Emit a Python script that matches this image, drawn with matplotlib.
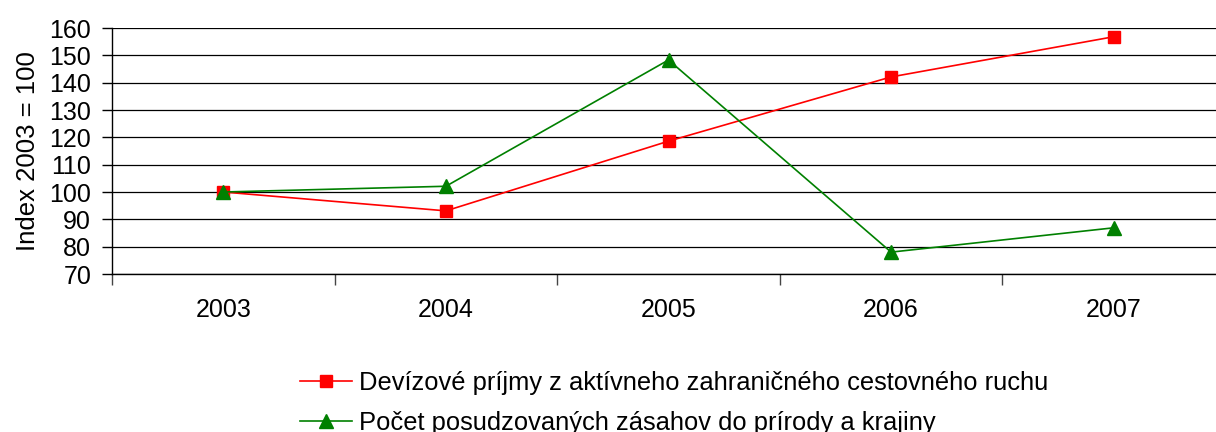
import matplotlib.pyplot as plt
import numpy as np

plt.rcParams["font.family"] = ["Liberation Sans", "DejaVu Sans"]

years = ["2003", "2004", "2005", "2006", "2007"]
devizove_prijmy = [100, 93.1, 118.6, 142.1, 156.8]
pocet_zasahov = [100, 102.1, 148.3, 78.0, 86.9]

labels = [
    "Devízové príjmy z aktívneho zahraničného cestovného ruchu",
    "Počet posudzovaných zásahov do prírody a krajiny",
]

fig = plt.figure(figsize=(12.16, 4.32), dpi=100)
ax = fig.add_axes([112 / 1216, 1 - 274 / 432, 1113 / 1216, 246 / 432])

x = np.arange(len(years))
ax.plot(x, devizove_prijmy, color="#FF0000", lw=1.2, marker="s", ms=8.5,
        label=labels[0], zorder=3)
ax.plot(x, pocet_zasahov, color="#008000", lw=1.2, marker="^", ms=10,
        label=labels[1], zorder=3)

ax.set_ylim(70, 160)
ax.set_yticks(np.arange(70, 161, 10))
ax.set_xlim(-0.5, len(years) - 0.5)

# category labels centred, tick marks between categories
ax.set_xticks(x)
ax.set_xticklabels(years)
ax.set_xticks(np.arange(-0.5, len(years), 1), minor=True)
ax.tick_params(axis="x", which="major", length=0, pad=17, labelsize=18)
ax.tick_params(axis="x", which="minor", length=8, width=1, color="#444444")
ax.tick_params(axis="y", length=7, width=1, labelsize=18, pad=8)

ax.yaxis.grid(True, color="black", lw=0.9)
ax.set_axisbelow(True)
for side in ("top", "right"):
    ax.spines[side].set_visible(False)
ax.spines["left"].set_linewidth(1)
ax.spines["bottom"].set_linewidth(1)

ax.set_ylabel("Index 2003 = 100", fontsize=18.5, labelpad=7)

fig.legend(loc="upper left", bbox_to_anchor=(287 / 1216, 1 - 358 / 432),
           frameon=False, fontsize=18.4, handlelength=2.05, handletextpad=0.25,
           borderpad=0, labelspacing=0.65)

fig.savefig("out.png", dpi=100)
